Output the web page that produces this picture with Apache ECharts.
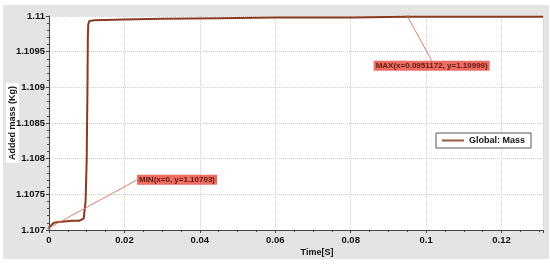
<!DOCTYPE html>
<html>
<head>
<meta charset="utf-8">
<script src="https://cdn.jsdelivr.net/npm/echarts@6/dist/echarts.min.js"></script>
<style>
  html, body { margin: 0; padding: 0; background: #fff; }
  #frame { position: absolute; left: 3px; top: 5px; width: 546px; height: 254px; background: #e4e4e4; }
  #chart { position: absolute; left: 0; top: 0; width: 550px; height: 266px; }
</style>
</head>
<body>
<div id="frame"></div>
<div id="chart"></div>
<script>
// 时间 (s) 与附加质量 (kg)
const timeS = [0, 0.0005, 0.0012, 0.002, 0.004, 0.006, 0.008, 0.0092, 0.0097, 0.0100, 0.0102, 0.0103, 0.0104, 0.0107, 0.012, 0.02, 0.03, 0.045, 0.06, 0.08, 0.0951172, 0.11, 0.131];
const massKg = [1.10703, 1.10706, 1.1071, 1.10711, 1.10712, 1.10713, 1.10713, 1.10716, 1.1074, 1.108, 1.109, 1.1097, 1.10988, 1.10993, 1.10994, 1.10995, 1.10996, 1.10997, 1.10998, 1.10998, 1.10999, 1.10999, 1.10999];

// 极值标注
const minPt = [0, 1.10703];
const maxPt = [0.0951172, 1.10999];

const xTicks = { min: 0, max: 0.131, interval: 0.02 };
const yTicks = { min: 1.107, max: 1.11, interval: 0.0005 };

// 标注框相对数据点的偏移
const noteShift = [[128, -48], [24, 49]];

let chart = echarts.init(document.getElementById('chart'));

const lineData = timeS.map((t, i) => [t, massKg[i]]);

const tickFont = { color: '#111', fontSize: 9.5, fontWeight: 'bold', fontFamily: 'Liberation Sans' };
const noteLabel = {
  show: true,
  position: 'inside',
  backgroundColor: '#e8483c',
  color: '#3a0500',
  fontSize: 8,
  fontWeight: 'bold',
  fontFamily: 'Liberation Sans',
  padding: [1, 2]
};

chart.setOption({
  animation: false,
  backgroundColor: 'transparent',
  grid: { left: 49, right: 7, top: 16, bottom: 36, outerBoundsMode: 'none', containLabel: false, show: true, backgroundColor: '#fff', borderWidth: 0 },
  legend: {
    right: 19, top: 133,
    backgroundColor: '#fff', borderColor: '#555', borderWidth: 1,
    padding: [3, 6],
    itemWidth: 22, itemHeight: 2,
    textStyle: { fontSize: 9, fontWeight: 'bold', color: '#111', fontFamily: 'Liberation Sans' },
    data: [{ name: 'Global: Mass', icon: 'rect', itemStyle: { color: '#9a5a3c' } }]
  },
  xAxis: {
    type: 'value',
    min: xTicks.min, max: xTicks.max, interval: xTicks.interval,
    name: 'Time[S]',
    nameLocation: 'middle',
    nameGap: 18,
    nameMoveOverlap: false,
    nameTextStyle: { fontSize: 9, fontWeight: 'bold', color: '#111', padding: [0, 0, 0, 42], fontFamily: 'Liberation Sans' },
    axisLine: { lineStyle: { color: '#444' } },
    axisTick: { show: true, length: 3, lineStyle: { color: '#444' } },
    minorTick: { show: true, splitNumber: 4, length: 2 },
    axisLabel: Object.assign({ margin: 5, showMinLabel: true, showMaxLabel: false, hideOverlap: false }, tickFont),
    splitLine: { show: true, lineStyle: { color: '#cfcfcf', type: 'dotted' } }
  },
  yAxis: {
    type: 'value',
    min: yTicks.min, max: yTicks.max, interval: yTicks.interval,
    name: 'Added mass (Kg)',
    nameLocation: 'middle',
    nameGap: 30,
    nameMoveOverlap: false,
    nameTextStyle: { fontSize: 9, fontWeight: 'bold', color: '#111', backgroundColor: '#fff', padding: [2, 3], fontFamily: 'Liberation Sans' },
    axisLine: { show: true, lineStyle: { color: '#444' } },
    axisTick: { show: true, length: 3, lineStyle: { color: '#444' } },
    minorTick: { show: true, splitNumber: 5, length: 2 },
    axisLabel: Object.assign({ margin: 4, showMinLabel: true, showMaxLabel: true, hideOverlap: false, formatter: v => String(+v.toFixed(4)) }, tickFont),
    splitLine: { show: true, lineStyle: { color: '#cfcfcf', type: 'dotted' } }
  },
  series: [
    {
      name: 'Global: Mass',
      type: 'line',
      data: lineData,
      showSymbol: false,
      smooth: false,
      lineStyle: { color: '#8a3b1e', width: 2 },
      itemStyle: { color: '#8a3b1e' },
      z: 3
    },
    {
      // MIN / MAX 标注
      type: 'scatter',
      symbolSize: 3,
      itemStyle: { color: '#9a6a4a' },
      silent: true,
      data: [
        { value: minPt, label: Object.assign({}, noteLabel, { formatter: 'MIN(x=' + minPt[0] + ', y=' + minPt[1] + ')' }) },
        { value: maxPt, label: Object.assign({}, noteLabel, { formatter: 'MAX(x=' + maxPt[0] + ', y=' + maxPt[1] + ')' }) }
      ],
      labelLayout: p => ({ dx: noteShift[p.dataIndex][0], dy: noteShift[p.dataIndex][1] }),
      labelLine: { show: true, lineStyle: { color: '#d9826a', width: 1 } },
      z: 4
    }
  ]
});
</script>
</body>
</html>
